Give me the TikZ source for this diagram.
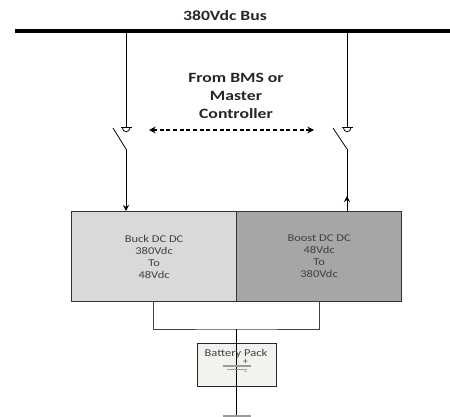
\documentclass[tikz,border=0pt]{standalone}
\usepackage{fontspec}
\setmainfont{Carlito}
\newfontfamily\headf[FakeStretch=1.25]{Carlito}
\newfontfamily\bodyf[FakeStretch=1.2]{Carlito}
\usetikzlibrary{arrows.meta}
\definecolor{buckfill}{HTML}{D9D9D9}
\definecolor{boostfill}{HTML}{A6A6A6}
\definecolor{packfill}{HTML}{F2F3EE}
\definecolor{txt}{HTML}{404040}
\definecolor{cell}{HTML}{9A9A9A}
\tikzset{
  conv/.style={draw=black!80,line width=0.9pt,minimum width=123.75pt,minimum height=67.5pt,inner sep=0pt,align=center,text=txt,font=\bodyf\fontsize{7.8}{9}\selectfont,anchor=north west},
  wire/.style={draw=black,line width=0.75pt},
  thin wire/.style={draw=black!75,line width=0.65pt},
  head/.style={font=\headf\bfseries\fontsize{10.6}{13.5}\selectfont,align=center,text=black!85},
  tip/.style={-{Stealth[length=4.5pt,width=4.5pt]}},
}
\begin{document}
\begin{tikzpicture}[x=0.75pt,y=-0.75pt]
\useasboundingbox (0,0) rectangle (450,417);
\coordinate (busL) at (15,31);
\coordinate (busR) at (450,31);
\draw[line width=3pt,black] (busL) -- (busR);
\node[head] (bustitle) at (225,15.5) {380Vdc Bus};
\node[head] (from) at (236,96) {From BMS or\\Master\\Controller};
% converters
\node[conv,fill=buckfill] (buck) at (71,211) {Buck DC DC\\380Vdc\\To\\48Vdc};
\node[conv,fill=boostfill] (boost) at (236,211) {Boost DC DC\\48Vdc\\To\\380Vdc};
% left branch
\coordinate (lt) at (126,31);
\coordinate (lb) at (126,127);
\coordinate (lc) at (126,149);
\coordinate (lo) at (113,128);
\coordinate (la) at (126,211);
\draw[wire] (lt) -- (lb);
\draw[wire,line width=0.6pt] (121,127.5) -- (132,127.5);
\draw[wire,line width=0.6pt] (122.5,128) arc[start angle=180,end angle=0,radius=3.7];
\draw[wire,line width=0.6pt] (lo) -- (lc);
\draw[wire,tip] (lc) -- (la);
% right branch
\coordinate (rt) at (347,31);
\coordinate (rb) at (347,127);
\coordinate (rc) at (347,149);
\coordinate (ro) at (333,128);
\coordinate (ra) at (347,211);
\coordinate (rtip) at (347,196);
\draw[wire] (rt) -- (rb);
\draw[wire,line width=0.6pt] (342,127.5) -- (352.5,127.5);
\draw[wire,line width=0.6pt] (343.5,128) arc[start angle=180,end angle=0,radius=3.7];
\draw[wire,line width=0.6pt] (ro) -- (rc);
\draw[wire] (rc) -- (ra);
\draw[wire,tip] (ra) -- (rtip);
% control
\coordinate (cl) at (149,130);
\coordinate (cr) at (314,130);
\draw[wire,line width=0.9pt,densely dashed,{Stealth[length=5pt,width=5pt]}-{Stealth[length=5pt,width=5pt]}] (cl) -- (cr);
% battery
\node[draw=black!85,line width=0.8pt,fill=packfill,minimum width=58.9pt,minimum height=32.2pt,inner sep=0pt,anchor=north west] (pack) at (197,343) {};
\coordinate (jt) at (236.5,329);
\coordinate (gnd) at (236.5,416);
\coordinate (bl) at (153.5,301);
\coordinate (br) at (319,301);
\draw[thin wire] (bl) |- (jt) -| (br);
\draw[wire] (jt) -- (gnd);
\node[font=\bodyf\fontsize{7.8}{8}\selectfont,text=txt,inner sep=0pt] (packlabel) at (236,353.5) {Battery Pack};
\draw[cell,line width=0.9pt] (222.5,366) -- (251,366);
\draw[cell,line width=0.9pt] (227,369.5) -- (247,369.5);
\node[font=\fontsize{7}{7}\selectfont,text=txt,inner sep=0pt] (plus) at (245.5,362) {+};
\node[font=\fontsize{6}{6}\selectfont,text=txt,inner sep=0pt] (minus) at (245.5,373) {-};
\draw[cell,line width=0.9pt] (222.5,416) -- (251,416);
\end{tikzpicture}
\end{document}
